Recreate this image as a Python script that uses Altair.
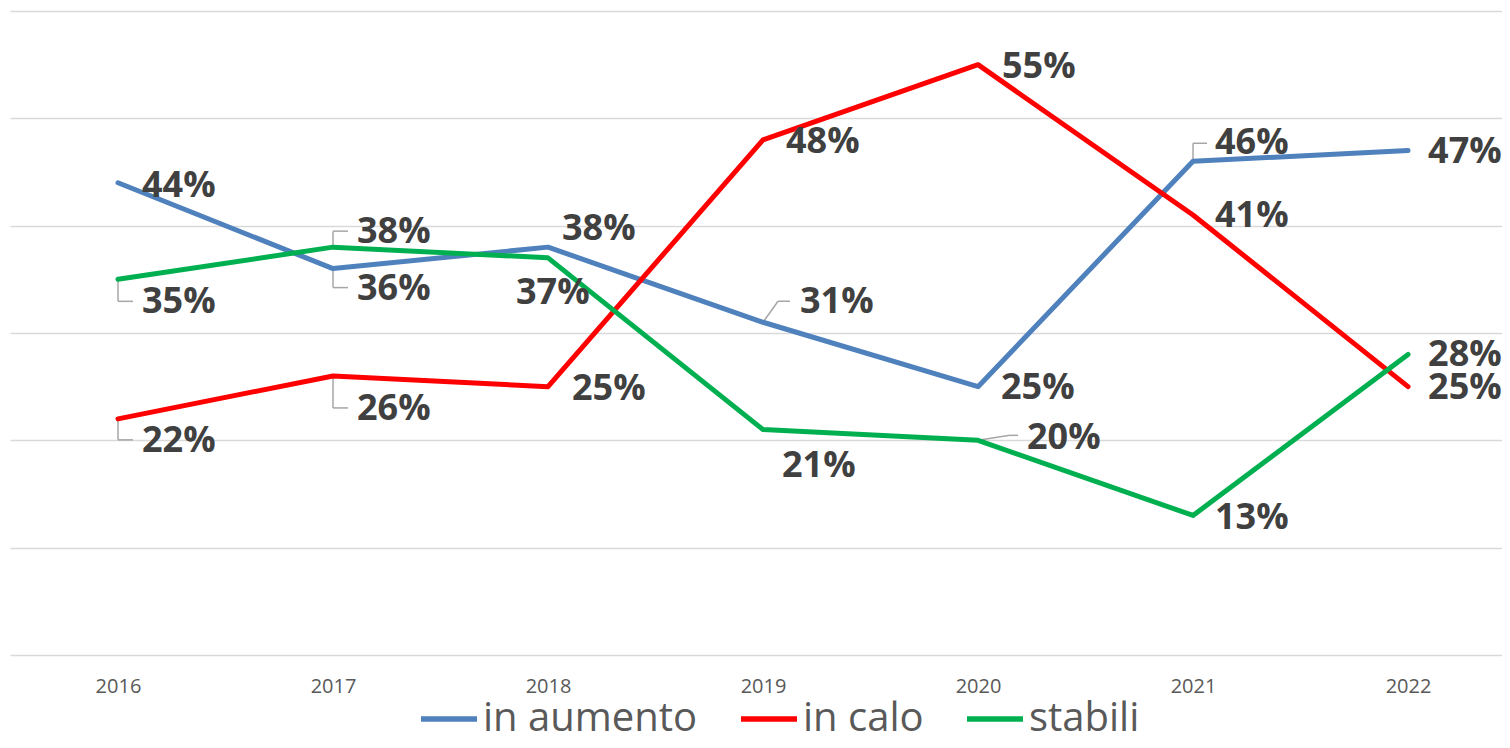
import altair as alt
import pandas as pd

YEARS = [2016, 2017, 2018, 2019, 2020, 2021, 2022]
SERIES = ["in aumento", "in calo", "stabili"]
IN_AUMENTO = [44, 36, 38, 31, 25, 46, 47]
IN_CALO = [22, 26, 25, 48, 55, 41, 25]
STABILI = [35, 38, 37, 21, 20, 13, 28]
COLORS = ["#4F81BD", "#FF0000", "#00B050"]

# label placement (pixel offsets from the point), style only
LABEL_OFFSETS = {
    "in aumento": [(24, 3), (24, 20), (14, -18), (37, -20), (23, 1), (22, -18), (20, 1)],
    "in calo": [(24, 22), (24, 33), (24, 2), (23, 2), (24, 2), (22, 1), (20, 1)],
    "stabili": [(24, 23), (24, -15), (-32, 35), (19, 36), (49, -2), (22, 3), (20, 1)],
}
# leader-line segments (pixel offsets from the point), style only
LEADERS = {
    "in aumento|2017": [(0, 0, 0, 19), (0, 19, 15, 19)],
    "stabili|2016": [(0, 0, 0, 22), (0, 22, 15, 22)],
    "in calo|2016": [(0, 0, 0, 21), (0, 21, 15, 21)],
    "in calo|2017": [(0, 0, 0, 32), (0, 32, 15, 32)],
    "stabili|2017": [(0, 0, 0, -16), (0, -16, 15, -16)],
    "in aumento|2019": [(0, 0, 15, -21), (15, -21, 27, -21)],
    "stabili|2020": [(0, 0, 32, -5), (32, -5, 40, -5)],
    "in aumento|2021": [(0, 0, 0, -18), (0, -18, 14, -18)],
}

values = {"in aumento": IN_AUMENTO, "in calo": IN_CALO, "stabili": STABILI}
rows = []
for s in SERIES:
    for y, v in zip(YEARS, values[s]):
        rows.append({"series": s, "year": y, "value": v, "key": f"{s}|{y}", "label": f"{v}%"})
df = pd.DataFrame(rows)

x = alt.X("year:Q",
          scale=alt.Scale(domain=[2015.4977, 2022.437], nice=False, zero=False),
          axis=alt.Axis(values=YEARS, format="d", title=None, grid=False, domain=False,
                        ticks=False, labelFont="Open Sans", labelFontSize=20,
                        labelColor="#595959", labelPadding=21, labelFlush=False,
                        labelOverlap=False))
y = alt.Y("value:Q",
          scale=alt.Scale(domain=[0, 60], nice=False, zero=True),
          axis=alt.Axis(values=[0, 10, 20, 30, 40, 50, 60], labels=False, ticks=False,
                        domain=False, title=None, grid=True, gridColor="#D9D9D9",
                        gridWidth=1.5))

base = alt.Chart(df).encode(x=x, y=y)

leaders = []
for k, segs in LEADERS.items():
    for (x1, y1, x2, y2) in segs:
        leaders.append(
            base.transform_filter(alt.datum.key == k).mark_rule(
                color="#A6A6A6", strokeWidth=1.5,
                xOffset=x1, yOffset=y1, x2Offset=x2, y2Offset=y2
            ).encode(x2=alt.X2("year:Q"), y2=alt.Y2("value:Q"))
        )

lines = base.mark_line(strokeWidth=5, strokeCap="round", strokeJoin="round").encode(
    color=alt.Color("series:N",
                    scale=alt.Scale(domain=SERIES, range=COLORS),
                    legend=alt.Legend(orient="none", legendX=408, legendY=677,
                                      direction="horizontal", title=None,
                                      symbolType="stroke", symbolSize=3136,
                                      symbolStrokeWidth=5.5, labelFont="Open Sans",
                                      labelFontSize=40, labelColor="#595959",
                                      labelOffset=3, columnPadding=32, labelLimit=400)),
    detail="series:N",
)

texts = []
for s in SERIES:
    for yr, (dx, dy) in zip(YEARS, LABEL_OFFSETS[s]):
        k = f"{s}|{yr}"
        texts.append(
            base.transform_filter(alt.datum.key == k).mark_text(
                align="left", baseline="middle", dx=dx, dy=dy, font="Open Sans",
                fontWeight="bold", fontSize=36, color="#404040"
            ).encode(text="label:N")
        )

chart = alt.layer(*leaders, lines, *texts).properties(
    width=1492, height=644,
    padding={"left": 2, "top": 3, "right": 0, "bottom": 80},
    autosize=alt.AutoSizeParams(type="none"),
).configure_view(stroke=None)

chart.save("out.html", embed_options={"renderer": "svg", "actions": False})
